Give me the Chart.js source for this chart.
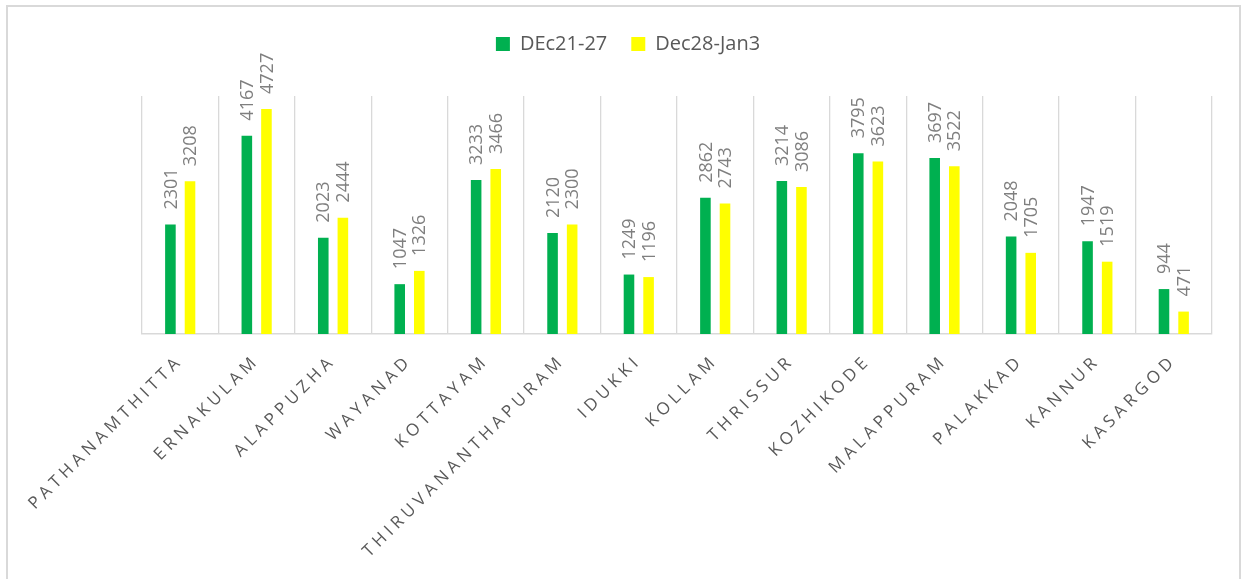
<!DOCTYPE html>
<html>
<head>
<meta charset="utf-8">
<script src="https://cdn.jsdelivr.net/npm/chart.js@4.4.1/dist/chart.umd.min.js"></script>
<style>
  html, body { margin: 0; padding: 0; background: #fff; overflow: hidden; }
  #wrap { position: relative; width: 1241px; height: 579px; }
  #frame { position: absolute; left: 6px; top: 5px; width: 1235px; height: 620px;
           box-sizing: border-box; border: 2px solid #d9d9d9; pointer-events: none; }
</style>
</head>
<body>
<div id="wrap">
  <canvas id="grafico" width="1241" height="579"></canvas>
  <div id="frame"></div>
</div>
<script>
// distritos e valores das duas semanas
const distritos = ['PATHANAMTHITTA', 'ERNAKULAM', 'ALAPPUZHA', 'WAYANAD', 'KOTTAYAM',
  'THIRUVANANTHAPURAM', 'IDUKKI', 'KOLLAM', 'THRISSUR', 'KOZHIKODE', 'MALAPPURAM',
  'PALAKKAD', 'KANNUR', 'KASARGOD'];
const semana1 = [2301, 4167, 2023, 1047, 3233, 2120, 1249, 2862, 3214, 3795, 3697, 2048, 1947, 944];
const semana2 = [3208, 4727, 2444, 1326, 3466, 2300, 1196, 2743, 3086, 3623, 3522, 1705, 1519, 471];
const nomesSeries = ['DEc21-27', 'Dec28-Jan3'];
const coresSeries = ['#00B050', '#FFFF00'];

// espaço extra abaixo da legenda
const espacoLegenda = {
    id: 'espacoLegenda',
    beforeInit(chart) {
        const fitOriginal = chart.legend.fit;
        chart.legend.fit = function () {
            fitOriginal.bind(chart.legend)();
            this.height += 32;
        };
    }
};

// rótulos de valor na vertical acima das barras
const rotulosValores = {
    id: 'rotulosValores',
    afterDatasetsDraw(chart) {
        const ctx = chart.ctx;
        ctx.save();
        ctx.font = '18px "Open Sans"';
        ctx.fillStyle = '#7f7f7f';
        ctx.textAlign = 'left';
        ctx.textBaseline = 'middle';
        chart.data.datasets.forEach(function (ds, i) {
            chart.getDatasetMeta(i).data.forEach(function (barra, j) {
                ctx.save();
                ctx.translate(barra.x + 1, barra.y - 15);
                ctx.rotate(-Math.PI / 2);
                ctx.fillText(String(ds.data[j]), 0, 0);
                ctx.restore();
            });
        });
        ctx.restore();
    }
};

// nomes dos distritos inclinados a 45 graus, com espaçamento entre letras
const rotulosEixo = {
    id: 'rotulosEixo',
    afterDraw(chart) {
        const ctx = chart.ctx;
        const escalaX = chart.scales.x;
        const base = chart.chartArea.bottom;
        ctx.save();
        ctx.font = '17px "Open Sans"';
        ctx.letterSpacing = '4.4px';
        ctx.fillStyle = '#595959';
        ctx.textAlign = 'right';
        ctx.textBaseline = 'middle';
        distritos.forEach(function (nome, i) {
            const x = escalaX.getPixelForValue(i);
            ctx.save();
            ctx.translate(x, base + 24);
            ctx.rotate(-Math.PI / 4);
            ctx.fillText(nome, 0, 0);
            ctx.restore();
        });
        ctx.restore();
    }
};

const config = {
    type: 'bar',
    data: {
        labels: distritos,
        datasets: [{
            label: nomesSeries[0],
            data: semana1,
            backgroundColor: coresSeries[0],
            borderWidth: 0,
            categoryPercentage: 0.513,
            barPercentage: 0.54
        }, {
            label: nomesSeries[1],
            data: semana2,
            backgroundColor: coresSeries[1],
            borderWidth: 0,
            categoryPercentage: 0.513,
            barPercentage: 0.54
        }]
    },
    options: {
        responsive: false,
        animation: false,
        layout: {
            padding: { left: 44, right: 29, top: 10, bottom: 245 }
        },
        scales: {
            x: {
                grid: { color: '#d9d9d9', lineWidth: 1.3, drawTicks: false, offset: true },
                border: { color: '#d9d9d9', width: 1.5 },
                ticks: { display: false }
            },
            y: {
                min: 0,
                max: 5000,
                grid: { display: false },
                border: { display: false },
                ticks: { display: false },
                afterFit: function (escala) { escala.width = 98; }
            }
        },
        plugins: {
            legend: {
                position: 'top',
                labels: {
                    boxWidth: 14,
                    boxHeight: 14,
                    padding: 24,
                    color: '#595959',
                    font: { family: '"Open Sans"', size: 20 }
                }
            },
            tooltip: { enabled: false }
        }
    },
    plugins: [espacoLegenda, rotulosValores, rotulosEixo]
};

let grafico = new Chart(document.getElementById('grafico'), config);
</script>
</body>
</html>
